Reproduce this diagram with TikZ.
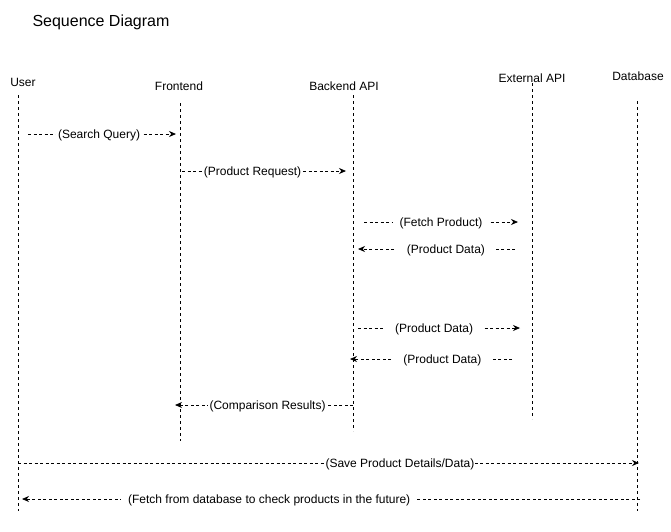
\documentclass[tikz,border=0pt]{standalone}
\usepackage{fontspec}
\setmainfont{Liberation Sans}
\usetikzlibrary{arrows.meta}
\tikzset{
	actor/.style={font=\fontsize{12}{14}\selectfont, inner sep=1pt, yshift=-1pt},
	life/.style={line width=0.8pt, dash pattern=on 3pt off 3pt},
	msg/.style={line width=0.8pt, dash pattern=on 3pt off 2.5pt, -{Stealth[length=7pt,width=6pt]}},
	msglabel/.style={font=\fontsize{12}{14}\selectfont, fill=white, inner xsep=2pt, inner ysep=1pt, yshift=-1pt},
	widelabel/.style={msglabel, inner xsep=7pt}
}

\begin{document}
\begin{tikzpicture}[x=1pt, y=-1pt]
			%%%%% START %%%%%
			\useasboundingbox[fill=white] (0, 0) rectangle (671, 531);
			
			\node[font=\fontsize{16}{19}\selectfont] (title) at (101, 22.5) {Sequence Diagram};
			
			% heads
			\node[actor] (user) at (23, 81) {User};
			\node[actor] (front) at (179, 85) {Frontend};
			\node[actor] (back) at (344, 85) {Backend API};
			\node[actor] (ext) at (532, 77) {External API};
			\node[actor] (db) at (638, 75) {Database};
			
			% lifelines
			\coordinate (user-top) at (18, 95);
			\coordinate (user-bot) at (18, 511);
			\coordinate (front-top) at (180, 103);
			\coordinate (front-bot) at (180, 441);
			\coordinate (back-top) at (353, 95);
			\coordinate (back-bot) at (353, 431);
			\coordinate (ext-top) at (532, 83);
			\coordinate (ext-bot) at (532, 419);
			\coordinate (db-top) at (637, 101);
			\coordinate (db-bot) at (637, 511);
			
			\draw[life] (user-top) -- (user-bot);
			\draw[life] (front-top) -- (front-bot);
			\draw[life] (back-top) -- (back-bot);
			\draw[life] (ext-top) -- (ext-bot);
			\draw[life] (db-top) -- (db-bot);
			
			% messages
			\coordinate (m1a) at (28, 134);
			\coordinate (m1b) at (176, 134);
			\draw[msg] (m1a) -- node[msglabel, pos=0.48] {(Search Query)} (m1b);
			
			\coordinate (m2a) at (182, 171);
			\coordinate (m2b) at (346, 171);
			\draw[msg] (m2a) -- node[msglabel, pos=0.43] {(Product Request)} (m2b);
			
			\coordinate (m3a) at (364, 222);
			\coordinate (m3b) at (518, 222);
			\draw[msg] (m3a) -- node[widelabel, pos=0.50] {(Fetch Product)} (m3b);
			
			\coordinate (m4a) at (515, 249);
			\coordinate (m4b) at (358, 249);
			\draw[msg] (m4a) -- node[widelabel, inner xsep=10pt, pos=0.44] {(Product Data)} (m4b);
			
			\coordinate (m5a) at (358, 328);
			\coordinate (m5b) at (520, 328);
			\draw[msg] (m5a) -- node[widelabel, inner xsep=10pt, pos=0.47] {(Product Data)} (m5b);
			
			\coordinate (m6a) at (512, 359);
			\coordinate (m6b) at (350, 359);
			\draw[msg] (m6a) -- node[widelabel, inner xsep=11pt, pos=0.43] {(Product Data)} (m6b);
			
			\coordinate (m7a) at (353, 405);
			\coordinate (m7b) at (175, 405);
			\draw[msg] (m7a) -- node[msglabel, pos=0.48] {(Comparison Results)} (m7b);
			
			\coordinate (m8a) at (18, 463);
			\coordinate (m8b) at (639, 463);
			\draw[msg] (m8a) -- node[msglabel, inner xsep=1pt, pos=0.615] {(Save Product Details/Data)} (m8b);
			
			\coordinate (m9a) at (640, 499);
			\coordinate (m9b) at (22, 499);
			\draw[msg] (m9a) -- node[widelabel, pos=0.60] {(Fetch from database to check products in the future)} (m9b);
			
			%%%%% END %%%%%
		\end{tikzpicture}
\end{document}
